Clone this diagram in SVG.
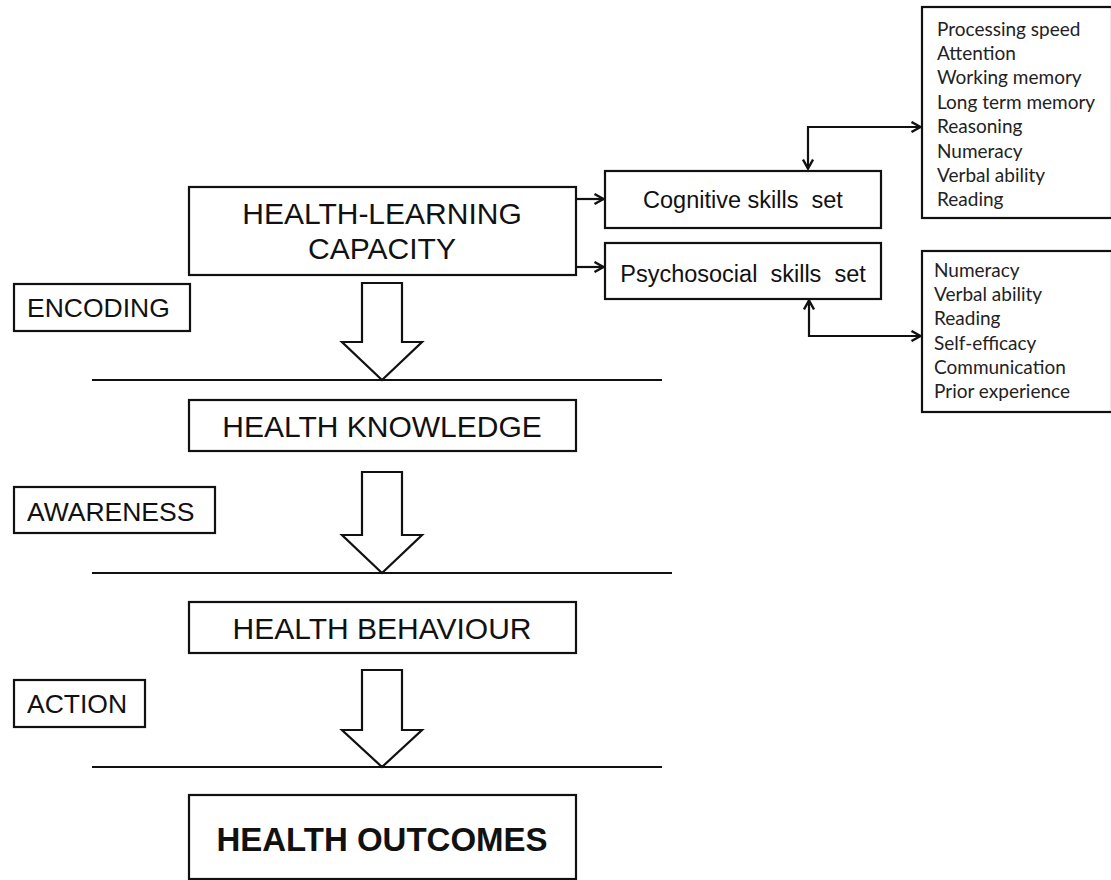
<svg xmlns="http://www.w3.org/2000/svg" width="1111" height="880" viewBox="0 0 1111 880">
<style>
.box{fill:#fff;stroke:#111;stroke-width:2.2}
.main{font-family:"Liberation Sans",Arial,sans-serif;font-size:30px;fill:#111;text-anchor:middle}
.lbl{font-family:"Liberation Sans",Arial,sans-serif;font-size:26.5px;fill:#111}
.skill{font-family:"Liberation Sans",Arial,sans-serif;font-size:23.5px;fill:#111;text-anchor:middle}
.list{font-family:Lato,"Open Sans",sans-serif;font-size:19px;fill:#222}
.blk{fill:#fff;stroke:#111;stroke-width:2.2;stroke-linejoin:miter}
.sep{stroke:#111;stroke-width:2.2}
.con{fill:none;stroke:#111;stroke-width:2.2}
</style>
<defs>
<marker id="ah" viewBox="0 0 12 12" refX="11" refY="6" markerWidth="12" markerHeight="12" markerUnits="userSpaceOnUse" orient="auto-start-reverse">
<path d="M1.5,1 L10.5,6 L1.5,11" fill="none" stroke="#111" stroke-width="2.4"/>
</marker>
</defs>

<g id="hlc">
<rect class="box" x="189" y="187" width="387" height="88"/>
<text class="main" x="382" y="224">HEALTH-LEARNING</text>
<text class="main" x="382" y="259">CAPACITY</text>
</g>
<g id="encoding">
<rect class="box" x="14" y="284" width="176" height="47"/>
<text class="lbl" x="27" y="317">ENCODING</text>
</g>
<g id="knowledge">
<rect class="box" x="189" y="400" width="387" height="51"/>
<text class="main" x="382" y="437">HEALTH KNOWLEDGE</text>
</g>
<g id="awareness">
<rect class="box" x="14" y="487" width="201" height="46"/>
<text class="lbl" x="27" y="521">AWARENESS</text>
</g>
<g id="behaviour">
<rect class="box" x="189" y="602" width="387" height="51"/>
<text class="main" x="382" y="639">HEALTH BEHAVIOUR</text>
</g>
<g id="action">
<rect class="box" x="14" y="680" width="131" height="47"/>
<text class="lbl" x="27" y="713">ACTION</text>
</g>
<g id="outcomes">
<rect class="box" x="189" y="795" width="387" height="84"/>
<text class="main" x="382" y="851" style="font-weight:bold;font-size:33px">HEALTH OUTCOMES</text>
</g>
<g id="cognitive">
<rect class="box" x="605" y="171" width="276" height="57"/>
<text class="skill" x="743" y="208" xml:space="preserve">Cognitive skills  set</text>
</g>
<g id="psychosocial">
<rect class="box" x="605" y="243" width="276" height="56"/>
<text class="skill" x="743" y="282" xml:space="preserve">Psychosocial  skills  set</text>
</g>
<g id="cognitive-list">
<rect class="box" x="922" y="7" width="190" height="211"/>
<text class="list" x="937" y="36">Processing speed</text>
<text class="list" x="937" y="60">Attention</text>
<text class="list" x="937" y="84">Working memory</text>
<text class="list" x="937" y="109">Long term memory</text>
<text class="list" x="937" y="133">Reasoning</text>
<text class="list" x="937" y="158">Numeracy</text>
<text class="list" x="937" y="182">Verbal ability</text>
<text class="list" x="937" y="206">Reading</text>
</g>
<g id="psychosocial-list">
<rect class="box" x="922" y="251" width="190" height="161"/>
<text class="list" x="934" y="277">Numeracy</text>
<text class="list" x="934" y="301">Verbal ability</text>
<text class="list" x="934" y="325">Reading</text>
<text class="list" x="934" y="350">Self-efficacy</text>
<text class="list" x="934" y="374">Communication</text>
<text class="list" x="934" y="398">Prior experience</text>
</g>

<g id="connectors">
<polygon class="blk" points="362,283 402,283 402,342 422,342 382,380 342,342 362,342"/>
<polygon class="blk" points="362,472 402,472 402,535 422,535 382,573 342,535 362,535"/>
<polygon class="blk" points="362,670 402,670 402,730 422,730 382,767 342,730 362,730"/>
<line class="sep" x1="92" y1="380" x2="662" y2="380"/>
<line class="sep" x1="92" y1="573" x2="672" y2="573"/>
<line class="sep" x1="92" y1="767" x2="662" y2="767"/>
<path class="con" d="M577,199 L604,199" marker-end="url(#ah)"/>
<path class="con" d="M577,267 L604,267" marker-end="url(#ah)"/>
<path class="con" d="M808,169 L808,127 L921,127" marker-start="url(#ah)" marker-end="url(#ah)"/>
<path class="con" d="M809,300 L809,336 L921,336" marker-start="url(#ah)" marker-end="url(#ah)"/>
</g>
</svg>
